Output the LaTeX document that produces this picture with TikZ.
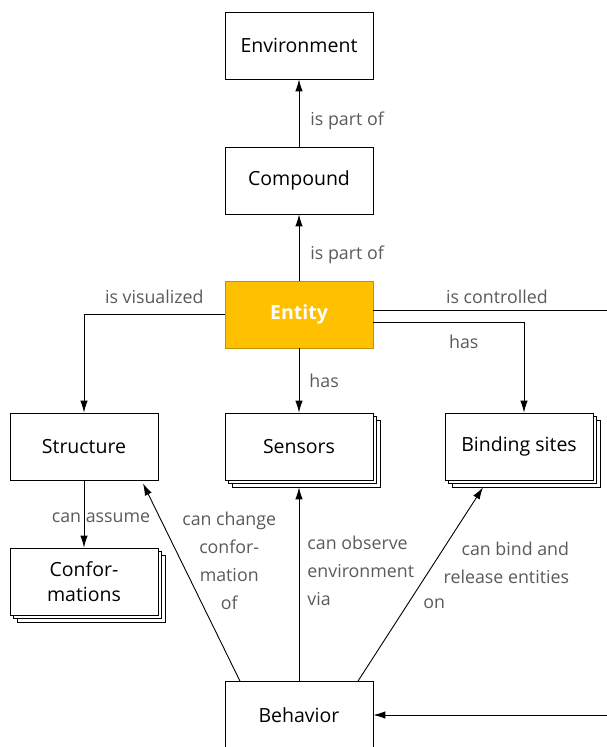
\documentclass[tikz,border=0pt]{standalone}
\usepackage{fontspec}
\setmainfont{Open Sans}
\usetikzlibrary{arrows.meta}
\usetikzlibrary{shadows}
\definecolor{entfill}{HTML}{FFC000}
\definecolor{entline}{HTML}{C29200}
\definecolor{lblgray}{HTML}{5A5A5A}
\tikzstyle{concept}=[rectangle, draw, fill=white, line width=0.8pt, minimum width=148pt, minimum height=67pt, inner sep=2pt, align=center, font=\fontsize{19.5}{25}\selectfont]
\tikzstyle{multi}=[concept, double copy shadow={shadow xshift=3.5pt, shadow yshift=-3.5pt}]
\tikzstyle{core}=[concept, fill=entfill, draw=entline, text=white, font=\fontsize{19.5}{25}\selectfont\bfseries]
\tikzstyle{rel}=[line width=0.9pt, -{Latex[length=12pt,width=7.5pt]}]
\tikzstyle{relLabel}=[text=lblgray, inner sep=2pt, font=\fontsize{17.8}{28}\selectfont]

\begin{document}
\begin{tikzpicture}[x=1pt, y=-1pt]
	\useasboundingbox (0,0) rectangle (606,747);
	
	\draw (299,45.5) node[concept] (env) {Environment};
	\draw (299,180.5) node[concept] (cmp) {Compound};
	\draw (299,314.5) node[core] (ent) {Entity};
	%%
	\draw (84,446.5) node[concept] (struc) {Structure};
	\draw (299,446.5) node[multi] (sens) {Sensors};
	\draw (519,446.5) node[multi] (bind) {Binding sites};
	\draw (84,581.5) node[multi] (conf) {Confor-\\mations};
	%%
	\draw (299,715) node[concept] (beh) {Behavior};
	
	\draw[rel] (cmp) -- (env) node[relLabel, pos=0.38, right=9pt] {is part of};
	\draw[rel] (ent) -- (cmp) node[relLabel, pos=0.39, right=9pt] {is part of};
	\draw[rel] (ent.west) -| (struc.north) node[relLabel, pos=0.25, above=8pt] {is visualized};
	\draw[rel] ([yshift=4.5pt]ent.east) -- ++(247,0) node[relLabel, midway, above=4pt] {is controlled} |- (beh.east);
	\draw[rel] ([yshift=-7.5pt]ent.east) -| ([xshift=5pt]bind.north) node[relLabel, pos=0.3, below=11pt] {has};
	\draw[rel] (ent) -- (sens) node[relLabel, midway, right=8pt] {has};
	\draw[rel] (struc) -- (conf) node[relLabel, pos=0.55, xshift=17pt] {can assume};
	%%
	\draw[rel] ([xshift=-59pt]beh.north) -- ([xshift=59pt,yshift=-3pt]struc.south)
		node[relLabel, align=center, pos=0.61, anchor=west, xshift=-1pt] {can change\\confor-\\mation\\of};
	\draw[rel] (beh) -- ([yshift=-7pt]sens.south)
		node[relLabel, align=left, pos=0.57, anchor=west, xshift=6pt] {can observe\\environment\\via};
	\draw[rel] ([xshift=59pt]beh.north) -- ([xshift=-36pt,yshift=-7pt]bind.south)
		node[relLabel, align=right, pos=0.61, anchor=west, xshift=7pt] {can bind and\\release entities}
		node[relLabel, pos=0.4, anchor=west, xshift=13pt] {on};
\end{tikzpicture}
\end{document}
